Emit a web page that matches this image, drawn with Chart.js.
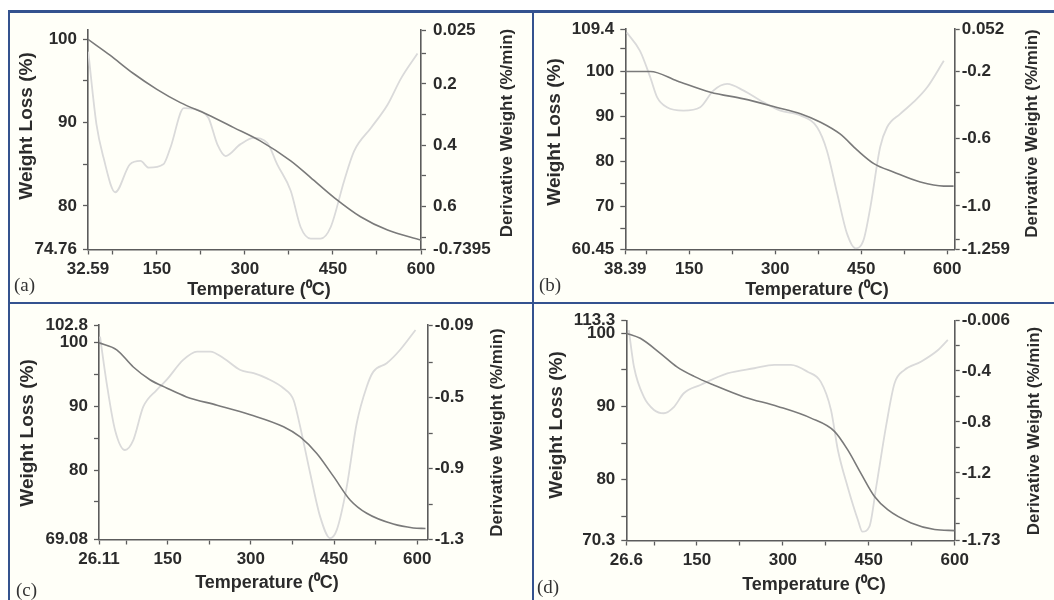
<!DOCTYPE html>
<html>
<head>
<meta charset="utf-8">
<script src="https://cdn.jsdelivr.net/npm/chart.js@4.4.1/dist/chart.umd.min.js"></script>
<style>
html,body{margin:0;padding:0;background:#ffffff;}
body{width:1054px;height:600px;position:relative;overflow:hidden;}
#bg{position:absolute;left:8px;top:10px;width:1046px;height:590px;background:#fffff8;}
canvas{position:absolute;}
.hl{position:absolute;background:#34528f;z-index:5;}
.lab{position:absolute;font-family:"Liberation Serif","Times New Roman",serif;font-size:19px;line-height:20px;color:#333;z-index:6;}
</style>
</head>
<body>
<div id="bg"></div>
<canvas id="cA" width="522" height="289" style="left:10px;top:13px"></canvas>
<canvas id="cB" width="520" height="289" style="left:534px;top:13px"></canvas>
<canvas id="cC" width="522" height="296" style="left:10px;top:304px"></canvas>
<canvas id="cD" width="520" height="296" style="left:534px;top:304px"></canvas>
<div class="hl" style="left:8px;top:10px;width:1046px;height:3px"></div>
<div class="hl" style="left:8px;top:10px;width:2px;height:590px"></div>
<div class="hl" style="left:532px;top:10px;width:2px;height:590px"></div>
<div class="hl" style="left:8px;top:302px;width:1046px;height:2px"></div>
<div class="lab" style="left:14px;top:275px">(a)</div>
<div class="lab" style="left:539px;top:275px">(b)</div>
<div class="lab" style="left:16px;top:580px">(c)</div>
<div class="lab" style="left:537px;top:577px">(d)</div>
<script>
// ---------- Panel (a) ----------
const tempA   = [32.6, 70, 110, 150, 190, 235, 281, 326, 378, 412, 452, 497, 543, 600];
const weightA = [100, 98.1, 95.9, 94.0, 92.4, 91.0, 89.4, 87.8, 85.4, 83.4, 81.0, 78.7, 77.1, 75.9];
const dTempA  = [33, 47, 59, 79, 104, 122, 136, 161, 173, 196, 225, 238, 253, 267, 292, 315, 338, 355, 378, 395, 412, 429, 446, 469, 486, 515, 543, 566, 594];
const derivA  = [-0.095, -0.332, -0.44, -0.553, -0.462, -0.451, -0.473, -0.462, -0.408, -0.279, -0.289, -0.311, -0.397, -0.435, -0.397, -0.376, -0.392, -0.462, -0.548, -0.667, -0.704, -0.704, -0.667, -0.516, -0.419, -0.343, -0.268, -0.182, -0.101];
const xTicksA = [32.59, 150, 300, 450, 600];
const xLabelsA = ['32.59', '150', '300', '450', '600'];
const wTicksA = [74.76, 80, 90, 100];
const wLabelsA = ['74.76', '80', '90', '100'];
const wMinorA = [85, 95];
const dTicksA = [-0.025, -0.2, -0.4, -0.6, -0.7395];
const dLabelsA = ['0.025', '0.2', '0.4', '0.6', '-0.7395'];
const dMinorA = [-0.1, -0.3, -0.5, -0.7];

// ---------- Panel (b) ----------
const tempB   = [38.4, 82, 129, 187, 245, 303, 344, 379, 413, 443, 472, 507, 553, 594, 611];
const weightB = [100, 100, 97.9, 95.4, 93.9, 92.0, 90.6, 88.7, 86.1, 82.5, 79.5, 77.6, 75.4, 74.5, 74.5];
const dTempB  = [41, 64, 82, 94, 111, 140, 169, 192, 216, 245, 274, 309, 344, 373, 390, 408, 425, 440, 454, 466, 483, 495, 518, 541, 565, 594];
const derivB  = [0.032, -0.077, -0.235, -0.354, -0.413, -0.433, -0.413, -0.314, -0.274, -0.314, -0.373, -0.433, -0.462, -0.532, -0.67, -0.927, -1.164, -1.253, -1.204, -1.006, -0.65, -0.532, -0.452, -0.383, -0.294, -0.136];
const xTicksB = [38.39, 150, 300, 450, 600];
const xLabelsB = ['38.39', '150', '300', '450', '600'];
const wTicksB = [60.45, 70, 80, 90, 100, 109.4];
const wLabelsB = ['60.45', '70', '80', '90', '100', '109.4'];
const wMinorB = [65, 75, 85, 95, 105];
const dTicksB = [0.052, -0.2, -0.6, -1.0, -1.259];
const dLabelsB = ['0.052', '-0.2', '-0.6', '-1.0', '-1.259'];
const dMinorB = [-0.4, -0.8, -1.2];

// ---------- Panel (c) ----------
const tempC   = [26.1, 58, 88, 118, 148, 184, 239, 299, 359, 389, 419, 449, 479, 509, 557, 593, 615];
const weightC = [100, 98.9, 96.2, 94.2, 92.9, 91.5, 90.2, 88.7, 86.8, 85.2, 82.6, 79.0, 75.3, 73.2, 71.5, 70.9, 70.8];
const dTempC  = [28, 40, 55, 73, 88, 106, 130, 148, 178, 203, 227, 251, 281, 305, 329, 359, 377, 389, 407, 425, 443, 455, 473, 491, 509, 521, 545, 569, 597];
const derivC  = [-0.156, -0.419, -0.682, -0.795, -0.739, -0.551, -0.457, -0.40, -0.287, -0.24, -0.24, -0.278, -0.344, -0.362, -0.391, -0.447, -0.513, -0.664, -0.926, -1.171, -1.293, -1.246, -1.002, -0.644, -0.438, -0.353, -0.306, -0.231, -0.118];
const xTicksC = [26.11, 150, 300, 450, 600];
const xLabelsC = ['26.11', '150', '300', '450', '600'];
const wTicksC = [69.08, 80, 90, 100, 102.8];
const wLabelsC = ['69.08', '80', '90', '100', '102.8'];
const wMinorC = [75, 85, 95];
const dTicksC = [-0.09, -0.5, -0.9, -1.3];
const dLabelsC = ['-0.09', '-0.5', '-0.9', '-1.3'];
const dMinorC = [-0.3, -0.7, -1.1];

// ---------- Panel (d) ----------
const tempD   = [26.6, 51, 86, 115, 145, 180, 232, 291, 349, 390, 413, 436, 460, 483, 524, 565, 600];
const weightD = [100, 99.3, 97.25, 95.4, 94.1, 92.9, 91.3, 90.0, 88.4, 86.6, 84.1, 80.9, 77.7, 75.9, 74.1, 73.2, 73.05];
const dTempD  = [31, 40, 57, 75, 92, 110, 127, 156, 203, 250, 285, 314, 343, 366, 384, 396, 413, 431, 439, 451, 463, 480, 495, 512, 541, 571, 588];
const derivD  = [-0.079, -0.367, -0.602, -0.706, -0.732, -0.681, -0.575, -0.51, -0.419, -0.379, -0.353, -0.353, -0.406, -0.484, -0.706, -1.02, -1.308, -1.569, -1.661, -1.622, -1.308, -0.837, -0.497, -0.393, -0.328, -0.236, -0.157];
const xTicksD = [26.6, 150, 300, 450, 600];
const xLabelsD = ['26.6', '150', '300', '450', '600'];
const wTicksD = [71.7, 80, 90, 100, 101.7];
const wLabelsD = ['70.3', '80', '90', '100', '113.3'];
const wMinorD = [75, 85, 95];
const dTicksD = [-0.006, -0.4, -0.8, -1.2, -1.73];
const dLabelsD = ['-0.006', '-0.4', '-0.8', '-1.2', '-1.73'];
const dMinorD = [-0.2, -0.6, -1.0, -1.4, -1.6];

const xMinor = [75, 225, 375, 525];
const xTitle = 'Temperature (\u2070C)';
const wTitle = 'Weight Loss (%)';
const dTitle = 'Derivative Weight (%/min)';

const FONT = 'Arial, "Liberation Sans", Helvetica, sans-serif';
const AXIS = '#5c5c5c';

const titlePlugin = {
  id: 'panelTitles',
  afterDraw(chart, args, opts) {
    const ctx = chart.ctx;
    ctx.save();
    ctx.fillStyle = '#2b2b2b';
    ctx.textAlign = 'center';
    ctx.textBaseline = 'middle';
    for (const t of opts.items) {
      ctx.save();
      ctx.font = 'bold ' + t.size + 'px ' + FONT;
      ctx.translate(t.x, t.y);
      ctx.rotate(t.rot);
      ctx.fillText(t.text, 0, 0);
      ctx.restore();
    }
    ctx.restore();
  }
};

function axis(pos, min, max, major, labels, minor, pad, fit) {
  return {
    type: 'linear', position: pos, min: min, max: max,
    afterBuildTicks: s => { s.ticks = major.concat(minor).sort((a, b) => a - b).map(v => ({value: v})); },
    afterFit: fit,
    grid: { drawOnChartArea: false, drawTicks: true, tickLength: 5, tickColor: AXIS, tickWidth: 1.3 },
    border: { display: true, color: AXIS, width: 1.6 },
    ticks: {
      autoSkip: false, maxRotation: 0, minRotation: 0, padding: pad, color: '#2b2b2b',
      font: { family: FONT, size: 17, weight: 'bold' },
      callback: v => { const i = major.indexOf(v); return i >= 0 ? labels[i] : ''; }
    }
  };
}

function panel(id, p) {
  const cv = document.getElementById(id);
  const W = cv.width, H = cv.height;
  const [L, T, R, B] = p.area;
  new Chart(cv, {
    type: 'line',
    data: { datasets: [
      { data: p.temp.map((t, i) => ({x: t, y: p.weight[i]})), yAxisID: 'yW',
        borderColor: '#7a7a7a', borderWidth: 1.6, pointRadius: 0, cubicInterpolationMode: 'monotone' },
      { data: p.dtemp.map((t, i) => ({x: t, y: p.deriv[i]})), yAxisID: 'yD',
        borderColor: '#dadada', borderWidth: 1.8, pointRadius: 0, cubicInterpolationMode: 'monotone' }
    ]},
    options: {
      responsive: false, animation: false, events: [],
      layout: { padding: { top: T, left: 0, right: 0, bottom: 0 } },
      plugins: {
        legend: { display: false }, tooltip: { enabled: false },
        panelTitles: { items: [
          { text: wTitle, x: p.tl[0], y: p.tl[1], rot: -Math.PI / 2, size: 19 },
          { text: dTitle, x: p.tr[0], y: p.tr[1], rot: -Math.PI / 2, size: 17 },
          { text: xTitle, x: p.tb[0], y: p.tb[1], rot: 0, size: 18 }
        ]}
      },
      scales: {
        x: axis('bottom', p.xr[0], p.xr[1], p.xt, p.xl, xMinor, 5, s => { s.height = H - B; }),
        yW: axis('left', p.wr[0], p.wr[1], p.wt, p.wl, p.wm, 6, s => { s.width = L; }),
        yD: axis('right', p.dr[0], p.dr[1], p.dt, p.dl, p.dm, p.dpad, s => { s.width = W - R; })
      }
    },
    plugins: [titlePlugin]
  });
}

panel('cA', { temp: tempA, weight: weightA, dtemp: dTempA, deriv: derivA,
  xr: [32.59, 600], xt: xTicksA, xl: xLabelsA,
  wr: [74.76, 101.1], wt: wTicksA, wl: wLabelsA, wm: wMinorA,
  dr: [-0.7395, -0.025], dt: dTicksA, dl: dLabelsA, dm: dMinorA, dpad: 7,
  area: [78, 15.3, 411, 236.5], tl: [17, 113], tr: [497, 120], tb: [249, 277] });

panel('cB', { temp: tempB, weight: weightB, dtemp: dTempB, deriv: derivB,
  xr: [38.39, 613], xt: xTicksB, xl: xLabelsB,
  wr: [60.45, 109.4], wt: wTicksB, wl: wLabelsB, wm: wMinorB,
  dr: [-1.259, 0.052], dt: dTicksB, dl: dLabelsB, dm: dMinorB, dpad: 2,
  area: [91.3, 15.3, 420.7, 236.3], tl: [21, 119], tr: [498, 120.5], tb: [283, 277] });

panel('cC', { temp: tempC, weight: weightC, dtemp: dTempC, deriv: derivC,
  xr: [26.11, 619], xt: xTicksC, xl: xLabelsC,
  wr: [69.08, 102.8], wt: wTicksC, wl: wLabelsC, wm: wMinorC,
  dr: [-1.3, -0.09], dt: dTicksC, dl: dLabelsC, dm: dMinorC, dpad: 2,
  area: [89, 21, 417.7, 235.5], tl: [18, 129], tr: [487, 128.5], tb: [257, 279] });

panel('cD', { temp: tempD, weight: weightD, dtemp: dTempD, deriv: derivD,
  xr: [26.6, 600], xt: xTicksD, xl: xLabelsD,
  wr: [71.7, 101.7], wt: wTicksD, wl: wLabelsD, wm: wMinorD,
  dr: [-1.73, -0.006], dt: dTicksD, dl: dLabelsD, dm: dMinorD, dpad: 2,
  area: [92.3, 16.7, 420.7, 236.5], tl: [23, 121], tr: [500, 127], tb: [280, 281] });
</script>
</body>
</html>
